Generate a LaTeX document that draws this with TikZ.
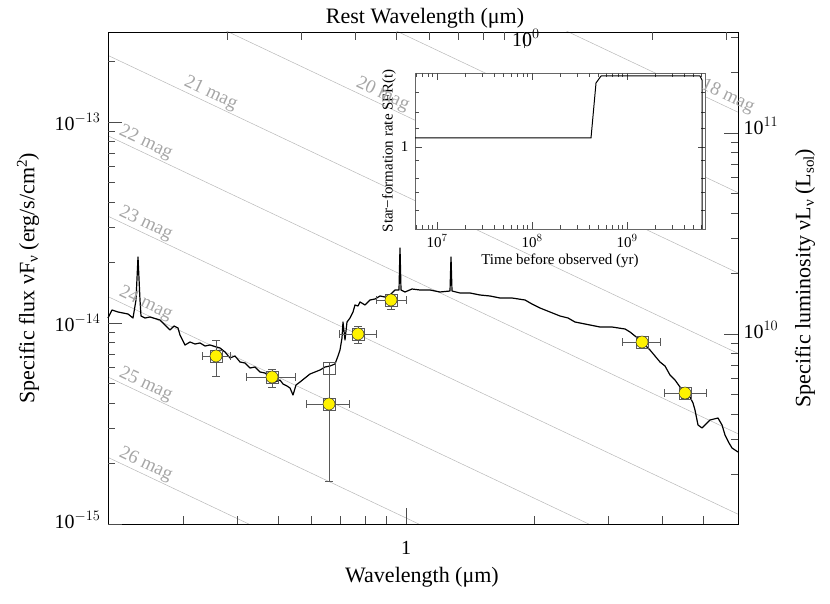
\documentclass[tikz,border=0pt]{standalone}
\usepackage{fontspec}
\setmainfont{Liberation Serif}
\newcommand{\mysub}[1]{\raisebox{-0.35ex}{\fontsize{15}{15}\selectfont #1}}
\newcommand{\mysup}[1]{\raisebox{0.75ex}{\fontsize{15}{15}\selectfont #1}}
\begin{document}
\begin{tikzpicture}[x=1pt,y=-1pt,
  frame/.style={draw=black,line width=0.8pt},
  tick/.style={draw=black!70,line width=0.6pt},
  magline/.style={draw=black!28,line width=0.5pt},
  maglab/.style={text=black!35,font=\fontsize{19}{19}\selectfont,rotate=-25.3,anchor=south west,inner sep=1pt},
  spec/.style={draw=black,line width=1.2pt,line join=round},
  errbar/.style={draw=black!65,line width=0.7pt},
  pt/.style={circle,fill=yellow,draw=black!80,line width=0.5pt,minimum size=12pt,inner sep=0pt},
  big/.style={font=\fontsize{22}{24}\selectfont},
  tl/.style={font=\fontsize{20}{22}\selectfont},
  small/.style={font=\fontsize{15}{17}\selectfont}]
\useasboundingbox (0,0) rectangle (830,604);
% magnitude lines
\begin{scope}
\clip (108,32) rectangle (738,524);
\foreach \m in {18,...,27}{
  \pgfmathsetmacro{\yz}{377+(\m-25)*80.4}
  \draw[magline] (108,\yz) -- (738,{\yz+0.473*630});
}
\end{scope}
% spectrum
\draw[spec] (108,318)--(112,310)--(118,312)--(128,314)--(133,318)--(136,300)--(138,257)--(140,300)--(141,316)--(145,318)--(150,317)--(160,320)--(165,325)--(170,330)--(174,326)--(178,328)--(180,335)--(185,345)--(190,342)--(195,344)--(200,343)--(205,346)--(210,345)--(220,348)--(225,352)--(230,358)--(235,356)--(240,362)--(245,363)--(250,368)--(255,367)--(260,372)--(265,373)--(270,377)--(275,382)--(280,380)--(283,384)--(287,386)--(290,388)--(293,395)--(296,385)--(300,382)--(305,378)--(310,374)--(315,372)--(320,370)--(325,367)--(330,366)--(335,364)--(338,356)--(340,350)--(342,338)--(343,322)--(345,340)--(347,322)--(350,318)--(353,312)--(355,305)--(358,306)--(360,302)--(365,305)--(370,300)--(375,299)--(380,296)--(385,297)--(390,295)--(395,290)--(399,290)--(400,248)--(401,290)--(405,292)--(412,289)--(420,290)--(430,290)--(440,292)--(450,291)--(451,257)--(452,291)--(460,293)--(470,293)--(480,295)--(490,296)--(500,298)--(512,298)--(525,300)--(532,304)--(540,308)--(550,312)--(560,316)--(568,318)--(575,322)--(590,325)--(600,327)--(612,327)--(625,329)--(630,332)--(640,340)--(650,350)--(660,362)--(665,366)--(670,375)--(675,380)--(680,387)--(685,392)--(690,397)--(693,403)--(695,410)--(698,425)--(702,428)--(710,420)--(718,418)--(722,425)--(725,435)--(729,443)--(732,448)--(738,452);
% data points
\foreach \i/\x/\y/\xa/\xb/\ya/\yb in {1/216/356/202/230/340/376,2/272/377/246/295/369/387,3/329/404/306/349/362/481,4/358/334/339/376/326/343,5/391/300/376/406/295/309,6/642/342/622/660/336/348,7/685/393/664/706/388/398}{
  \draw[errbar] (\xa,\y)--(\xb,\y) (\xa,\y-4)--(\xa,\y+4) (\xb,\y-4)--(\xb,\y+4);
  \draw[errbar] (\x,\ya)--(\x,\yb) (\x-4,\ya)--(\x+4,\ya) (\x-4,\yb)--(\x+4,\yb);
  \draw[errbar,line width=0.5pt] (\x-6,\y-6) rectangle (\x+6,\y+6);
  \node[pt] (p\i) at (\x,\y) {};
}
\draw[errbar,line width=0.5pt] (323,362) rectangle (335,374);
% main frame
\draw[frame] (108,32) rectangle (738,524);
% left ticks
\foreach \d in {0,1,2}{
  \pgfmathsetmacro{\yb}{524-201*\d}
  \draw[tick] (108,\yb)--(122,\yb);
  \foreach \k in {2,...,9}{
    \pgfmathsetmacro{\yy}{\yb-201*log10(\k)}
    \pgfmathparse{\yy>32?1:0}
    \ifnum\pgfmathresult=1 \draw[tick] (108,\yy)--(115,\yy);\fi
  }
}
% right ticks
\foreach \d in {0,1}{
  \pgfmathsetmacro{\yb}{334-201*\d}
  \draw[tick] (738,\yb)--(724,\yb);
  \foreach \k in {2,...,9}{
    \pgfmathsetmacro{\yy}{\yb-201*log10(\k)}
    \pgfmathparse{\yy>32?1:0}
    \ifnum\pgfmathresult=1 \draw[tick] (738,\yy)--(731,\yy);\fi
    \pgfmathsetmacro{\yz}{\yb+201-201*log10(\k)}
    \pgfmathparse{\yz<524?1:0}
    \ifnum\pgfmathresult=1 \draw[tick] (738,\yz)--(731,\yz);\fi
  }
}
% bottom ticks
\draw[tick] (406,524)--(406,508);
\foreach \v in {0.3,0.4,0.5,0.6,0.7,0.8,0.9,2,3,4,5}{
  \pgfmathsetmacro{\xx}{406+425*log10(\v)}
  \draw[tick] (\xx,524)--(\xx,516);
}
% top ticks (rest frame, z=0.9)
\draw[tick] (524,32)--(524,48);
\foreach \v in {0.2,0.3,0.4,0.5,0.6,0.7,0.8,0.9,2,3}{
  \pgfmathsetmacro{\xx}{524+425*log10(\v)}
  \pgfmathparse{and(\xx>108,\xx<738)?1:0}
  \ifnum\pgfmathresult=1 \draw[tick] (\xx,32)--(\xx,40);\fi
}
% axis labels
\node[tl,anchor=east] (yl13) at (104,122) {10$^{-13}$};
\node[tl,anchor=east] (yl14) at (104,323) {10$^{-14}$};
\node[tl,anchor=east] (yl15) at (104,520) {10$^{-15}$};
\node[tl,anchor=west] (yr11) at (740,126) {10$^{11}$};
\node[tl,anchor=west] (yr10) at (740,330) {10$^{10}$};
\node[tl] (x1) at (406,548) {1};
\node[big] (xlab) at (422,577) {Wavelength (μm)};
\node[big] (toplab) at (425,18) {Rest Wavelength (μm)};
\node[tl] (top0) at (526,38) {10$^{0}$};
\node[big,rotate=90] (ylab) at (28,278) {Specific flux νF\mysub{ν} (erg/s/cm\mysup{2})};
\node[big,rotate=90] (yrlab) at (805,278) {Specific luminosity νL\mysub{ν} (L\mysub{sol})};
% inset
\fill[white] (415,73) rectangle (705,229);
\draw[black!60,line width=0.5pt] (415,73) rectangle (705,229);
\foreach \d in {6,7,8,9}{
  \pgfmathsetmacro{\xb}{437+95*(\d-7)}
  \pgfmathparse{\xb>415?1:0}
  \ifnum\pgfmathresult=1 \draw[tick,line width=0.4pt] (\xb,229)--(\xb,222) (\xb,73)--(\xb,80);\fi
  \foreach \k in {2,...,9}{
    \pgfmathsetmacro{\xx}{\xb+95*log10(\k)}
    \pgfmathparse{and(\xx>415,\xx<705)?1:0}
    \ifnum\pgfmathresult=1 \draw[tick,line width=0.4pt] (\xx,229)--(\xx,225) (\xx,73)--(\xx,77);\fi
  }
}
\foreach \yy in {92,112,128,160,178,192,210}{
  \draw[tick,line width=0.4pt] (415,\yy)--(419,\yy) (705,\yy)--(701,\yy);
}
\draw[tick,line width=0.4pt] (415,147)--(422,147) (705,147)--(698,147);
\draw[black,line width=1pt,line join=round] (415,138)--(591,138)--(596,83)--(601,76)--(700,76)--(702,80)--(702,229);
\node[small] (i7) at (437,241) {10$^{7}$};
\node[small] (i8) at (532,241) {10$^{8}$};
\node[small] (i9) at (627,241) {10$^{9}$};
\node[small,anchor=east] (i1) at (412,147) {1};
\node[small] (ixl) at (560,261) {Time before observed (yr)};
\node[small,rotate=90] (iyl) at (389,151) {Star−formation rate SFR(t)};
% magnitude labels (drawn over inset edge as in reference)
\foreach \m/\xx in {26/115,25/115,24/115,23/115,22/115,21/180,20/352,18/697}{
  \pgfmathsetmacro{\yl}{377+(\m-25)*80.4+0.473*(\xx-108)}
  \node[maglab] (ml\m) at (\xx,\yl) {\m{} mag};
}
\end{tikzpicture}
\end{document}
